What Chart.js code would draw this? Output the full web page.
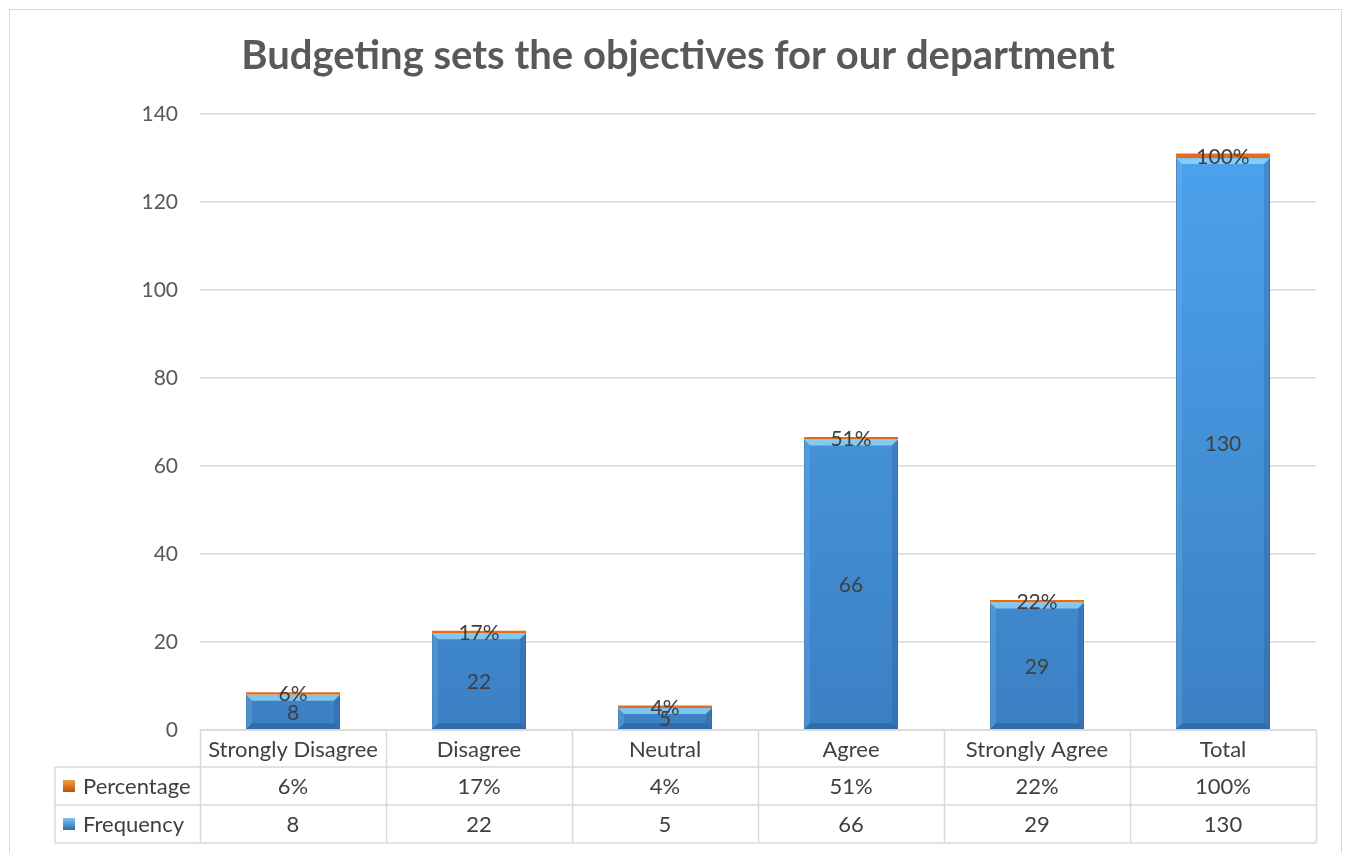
<!DOCTYPE html>
<html lang="en">
<head>
<meta charset="UTF-8">
<title>Budgeting sets the objectives for our department</title>
<script src="https://cdn.jsdelivr.net/npm/chart.js"></script>
<style>
  html, body { margin: 0; padding: 0; background: #fff; }
  #wrap { width: 1351px; height: 853px; position: relative; }
</style>
</head>
<body>
<div id="wrap"><canvas id="chart" width="1351" height="853"></canvas></div>
<script>
const categories = ['Strongly Disagree', 'Disagree', 'Neutral', 'Agree', 'Strongly Agree', 'Total'];
const frequency = [8, 22, 5, 66, 29, 130];
const percentage = [0.06, 0.17, 0.04, 0.51, 0.22, 1.00];
const percentLabels = ['6%', '17%', '4%', '51%', '22%', '100%'];
const yTicks = [0, 20, 40, 60, 80, 100, 120, 140];

const FONT = 'Lato, "Open Sans", sans-serif';
const TEXT = '#404040';
const GRID = '#d9d9d9';

function shade(ctx, pts, color) {
  ctx.beginPath();
  ctx.moveTo(pts[0][0], pts[0][1]);
  for (let i = 1; i < pts.length; i++) ctx.lineTo(pts[i][0], pts[i][1]);
  ctx.closePath();
  ctx.fillStyle = color;
  ctx.fill();
}

// bevel look + data labels + data table + frame
const extras = {
  id: 'extras',
  beforeDraw(chart) {
    const ctx = chart.ctx;
    ctx.save();
    ctx.strokeStyle = GRID;
    ctx.lineWidth = 1;
    ctx.strokeRect(9.5, 9.5, 1332, 860);
    ctx.fillStyle = '#595959';
    ctx.font = 'bold 40px ' + FONT;
    ctx.textAlign = 'center';
    ctx.textBaseline = 'middle';
    ctx.fillText('Budgeting sets the objectives for our department', 678, 56);
    ctx.restore();
  },
  afterDatasetsDraw(chart) {
    const ctx = chart.ctx;
    const freqMeta = chart.getDatasetMeta(0);
    const pctMeta = chart.getDatasetMeta(1);
    ctx.save();
    freqMeta.data.forEach(bar => {
      const l = bar.x - bar.width / 2, r = bar.x + bar.width / 2;
      const t = bar.y, b = bar.base;
      const e = Math.min(6, (b - t) / 3);
      shade(ctx, [[l, t], [r, t], [r - e, t + e], [l + e, t + e]], 'rgba(150,220,252,0.75)');
      shade(ctx, [[l, t], [l + e, t + e], [l + e, b - e], [l, b]], 'rgba(120,190,240,0.25)');
      shade(ctx, [[r, t], [r, b], [r - e, b - e], [r - e, t + e]], 'rgba(30,70,120,0.22)');
      shade(ctx, [[l, b], [r, b], [r - e, b - e], [l + e, b - e]], 'rgba(20,55,100,0.28)');
    });
    ctx.font = '21px ' + FONT;
    ctx.fillStyle = TEXT;
    ctx.textAlign = 'center';
    ctx.textBaseline = 'middle';
    freqMeta.data.forEach((bar, i) => {
      ctx.fillText(String(frequency[i]), bar.x, (bar.y + bar.base) / 2 + 1);
    });
    pctMeta.data.forEach((bar, i) => {
      ctx.fillText(percentLabels[i], bar.x, (bar.y + bar.base) / 2 + 1);
    });
    ctx.restore();
  },
  afterDraw(chart) {
    const ctx = chart.ctx;
    const x = chart.scales.x;
    const area = chart.chartArea;
    const rows = [area.bottom, area.bottom + 37, area.bottom + 75, area.bottom + 113];
    const leftCol = 55;
    const step = (area.right - area.left) / categories.length;
    ctx.save();
    ctx.strokeStyle = GRID;
    ctx.lineWidth = 1.5;
    ctx.beginPath();
    ctx.moveTo(area.left, rows[0]); ctx.lineTo(area.right, rows[0]);
    for (let k = 1; k < rows.length; k++) {
      ctx.moveTo(leftCol, rows[k]); ctx.lineTo(area.right, rows[k]);
    }
    ctx.moveTo(leftCol, rows[1]); ctx.lineTo(leftCol, rows[3]);
    for (let i = 0; i <= categories.length; i++) {
      const px = Math.round(area.left + i * step) + 0.5;
      ctx.moveTo(px, rows[0]); ctx.lineTo(px, rows[3]);
    }
    ctx.stroke();

    ctx.font = '22px ' + FONT;
    ctx.fillStyle = TEXT;
    ctx.textAlign = 'center';
    ctx.textBaseline = 'middle';
    categories.forEach((c, i) => {
      const cx = x.getPixelForValue(i);
      ctx.fillText(c, cx, (rows[0] + rows[1]) / 2 + 1);
      ctx.fillText(percentLabels[i], cx, (rows[1] + rows[2]) / 2 + 1);
      ctx.fillText(String(frequency[i]), cx, (rows[2] + rows[3]) / 2 + 1);
    });

    // legend keys
    const keys = [
      { label: 'Percentage', y: (rows[1] + rows[2]) / 2, c1: '#f0a050', c2: '#c0500a' },
      { label: 'Frequency', y: (rows[2] + rows[3]) / 2, c1: '#7cc6f5', c2: '#2a6aaa' }
    ];
    keys.forEach(k => {
      const kx = 63, ky = k.y - 6, s = 12;
      const g = ctx.createLinearGradient(0, ky, 0, ky + s);
      g.addColorStop(0, k.c1); g.addColorStop(1, k.c2);
      ctx.fillStyle = g;
      ctx.fillRect(kx, ky, s, s);
      ctx.fillStyle = TEXT;
      ctx.textAlign = 'left';
      ctx.fillText(k.label, 83, k.y + 1);
    });
    ctx.restore();
  }
};

function blueFill(c) {
  const area = c.chart.chartArea;
  if (!area) return '#4a9ee6';
  const g = c.chart.ctx.createLinearGradient(0, area.top, 0, area.bottom);
  g.addColorStop(0, '#4da4ef');
  g.addColorStop(1, '#3c80c4');
  return g;
}

new Chart(document.getElementById('chart'), {
  type: 'bar',
  data: {
    labels: categories,
    datasets: [
      {
        label: 'Frequency',
        data: frequency,
        backgroundColor: blueFill,
        borderColor: '#2f6aa6',
        borderWidth: 1,
        stack: 's'
      },
      {
        label: 'Percentage',
        data: percentage,
        backgroundColor: '#e46c1a',
        borderColor: '#b9520c',
        borderWidth: 0,
        minBarLength: 2.5,
        stack: 's'
      }
    ]
  },
  options: {
    responsive: false,
    animation: false,
    layout: { padding: { top: 114, right: 35, bottom: 123, left: 0 } },
    datasets: { bar: { categoryPercentage: 1, barPercentage: 0.505 } },
    plugins: {
      legend: { display: false },
      title: { display: false },
      tooltip: { enabled: false }
    },
    scales: {
      x: {
        display: false,
        stacked: true
      },
      y: {
        stacked: true,
        min: 0,
        max: 140,
        afterFit(s) { s.width = 200; },
        afterBuildTicks(s) { s.ticks = yTicks.map(v => ({ value: v })); },
        border: { display: false },
        grid: { color: GRID, lineWidth: 1.5, drawTicks: false },
        ticks: {
          padding: 22,
          color: '#595959',
          font: { family: FONT, size: 21 }
        }
      }
    }
  },
  plugins: [extras]
});
</script>
</body>
</html>
